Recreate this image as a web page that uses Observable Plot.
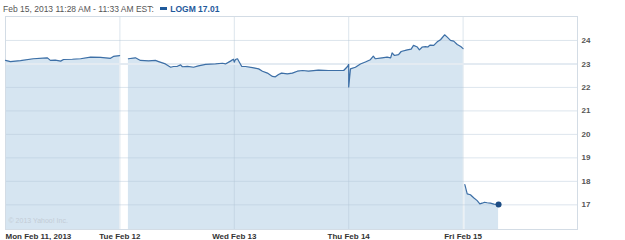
<!DOCTYPE html>
<html>
<head>
<meta charset="utf-8">
<script src="https://cdn.jsdelivr.net/npm/d3@7"></script>
<script src="https://cdn.jsdelivr.net/npm/@observablehq/plot@0.6"></script>
<style>
  html, body { margin: 0; padding: 0; background: #fff; }
  #wrap { position: relative; width: 625px; height: 240px; }
  #title { position: absolute; left: 3px; top: 4px; font: 8.5px "Liberation Sans", Arial, sans-serif; color: #555; white-space: nowrap; }
  #title .sym { color: #1f5a9c; font-weight: bold; margin-left: 4px; }
  #title .icon { display: inline-block; width: 7px; height: 3px; background: #1f5a9c; vertical-align: 2px; margin-right: 3px; }
</style>
</head>
<body>
<div id="wrap">
  <div id="chart"></div>
  <div id="title"></div>
</div>
<script>
// ---- data ----
const ticker = "LOGM";
const titleRange = "Feb 15, 2013 11:28 AM - 11:33 AM EST:";
const dayLabels = ["Mon Feb 11, 2013", "Tue Feb 12", "Wed Feb 13", "Thu Feb 14", "Fri Feb 15"];
const yTicks = [17, 18, 19, 20, 21, 22, 23, 24];
const prevClose = 23;
const newSessionDays = [1, 4]; // data gap before Tue and Fri
const copyright = "© 2013 Yahoo! Inc.";

const monTimes  = ["9:30","9:47","10:21","11:05","11:53","12:03","12:20","12:38","12:48","13:18","13:46","14:20","14:54","15:28","15:38","15:59"];
const monPrices = [23.15,23.10,23.14,23.22,23.26,23.15,23.16,23.12,23.19,23.20,23.22,23.29,23.28,23.24,23.32,23.35];

const tueTimes  = ["9:59","10:23","10:40","11:08","11:31","11:42","12:05","12:23","12:33","12:46","12:57","13:03","13:21","13:41","13:58","14:22","14:56","15:20","15:30","15:47","15:57"];
const tuePrices = [23.22,23.26,23.15,23.13,23.15,23.10,23.00,22.86,22.89,22.90,22.96,22.88,22.90,22.86,22.92,22.98,23.00,23.03,23.00,23.12,23.20];

const wedTimes  = ["9:30","9:34","9:41","9:44","9:55","10:08","10:32","10:53","11:06","11:23","11:40","11:50","12:01","12:11","12:31","12:48","13:05","13:23","13:43","14:17","14:51","15:26","15:43","15:56","16:00"];
const wedPrices = [23.08,23.19,23.22,23.15,22.90,22.89,22.84,22.79,22.69,22.61,22.47,22.45,22.55,22.61,22.58,22.61,22.69,22.72,22.69,22.74,22.72,22.72,22.72,22.89,22.98];

const thuTimes  = ["9:30","9:36","9:53","10:10","10:27","10:44","10:54","11:01","11:24","11:41","11:53","11:58","12:06","12:20","12:29","12:50","13:03","13:11","13:24","13:31","13:41","13:52","14:00","14:07","14:20","14:32","14:43","14:57","15:06","15:17","15:28","15:40","15:52","16:00"];
const thuPrices = [22.02,22.79,22.86,23.00,23.08,23.18,23.33,23.22,23.26,23.29,23.26,23.47,23.36,23.40,23.53,23.60,23.63,23.79,23.72,23.60,23.72,23.74,23.72,23.80,23.79,23.94,24.03,24.24,24.14,24.00,23.97,23.83,23.74,23.65];

const friTimes  = ["9:36","9:44","9:55","10:06","10:18","10:27","10:35","10:43","10:52","11:03","11:15","11:31"];
const friPrices = [17.86,17.47,17.43,17.30,17.18,17.04,17.07,17.11,17.09,17.07,17.03,17.01];

// ---- build table ----
const dayTimes = [monTimes, tueTimes, wedTimes, thuTimes, friTimes];
const dayPrices = [monPrices, tuePrices, wedPrices, thuPrices, friPrices];
const sessionMinutes = 390;
const rows = [];
let seg = 0;
dayTimes.forEach((times, d) => {
  if (newSessionDays.includes(d)) seg++;
  times.forEach((t, i) => {
    const [h, m] = t.split(":").map(Number);
    const mins = h * 60 + m - (9 * 60 + 30);
    rows.push({x: d + mins / sessionMinutes, price: dayPrices[d][i], seg});
  });
});
const last = rows[rows.length - 1];
const yMin = 15.95, yMax = 25.02;

document.getElementById("title").innerHTML =
  titleRange + ' <span class="sym"><span class="icon"></span>' + ticker + " " + last.price.toFixed(2) + "</span>";

const dayIdx = dayLabels.map((_, i) => i);
const chart = Plot.plot({
  width: 625,
  height: 240,
  marginLeft: 5,
  marginRight: 48,
  marginTop: 16,
  marginBottom: 11,
  style: {fontFamily: "'Liberation Sans', Arial, sans-serif", background: "#fff"},
  x: {domain: [0, 5], axis: null},
  y: {domain: [yMin, yMax], axis: null},
  marks: [
    Plot.areaY(rows, {x: "x", y1: yMin, y2: "price", z: "seg", fill: "#d6e5f1", curve: "linear"}),
    Plot.ruleY(yTicks, {stroke: "#b4c6d8", strokeOpacity: 0.45}),
    Plot.ruleX(dayIdx.slice(1), {stroke: "#b4c6d8", strokeOpacity: 0.45}),
    Plot.ruleY([prevClose], {stroke: "#e4ebf2", strokeWidth: 2}),
    Plot.frame({stroke: "#d3dce5"}),
    Plot.text([copyright], {frameAnchor: "bottom-left", dx: 3, dy: -7, fill: "#c3ccd6", fontSize: 7, textAnchor: "start"}),
    Plot.lineY(rows, {x: "x", y: "price", z: "seg", stroke: "#3d6fa6", strokeWidth: 1.2}),
    Plot.dot([last], {x: "x", y: "price", r: 3, fill: "#1d4d85"}),
    Plot.axisY(yTicks, {anchor: "right", label: null, tickSize: 0, tickPadding: 4, fontSize: 8, fontWeight: "bold", fill: "#555"}),
    Plot.text(dayIdx.slice(0, 1), {x: d => d, text: d => dayLabels[d], frameAnchor: "bottom", dy: 7, lineAnchor: "middle", textAnchor: "start", fontSize: 8, fontWeight: "bold", fill: "#333"}),
    Plot.text(dayIdx.slice(1), {x: d => d, text: d => dayLabels[d], frameAnchor: "bottom", dy: 7, lineAnchor: "middle", textAnchor: "middle", fontSize: 8, fontWeight: "bold", fill: "#333"})
  ]
});
document.getElementById("chart").appendChild(chart);
</script>
</body>
</html>
